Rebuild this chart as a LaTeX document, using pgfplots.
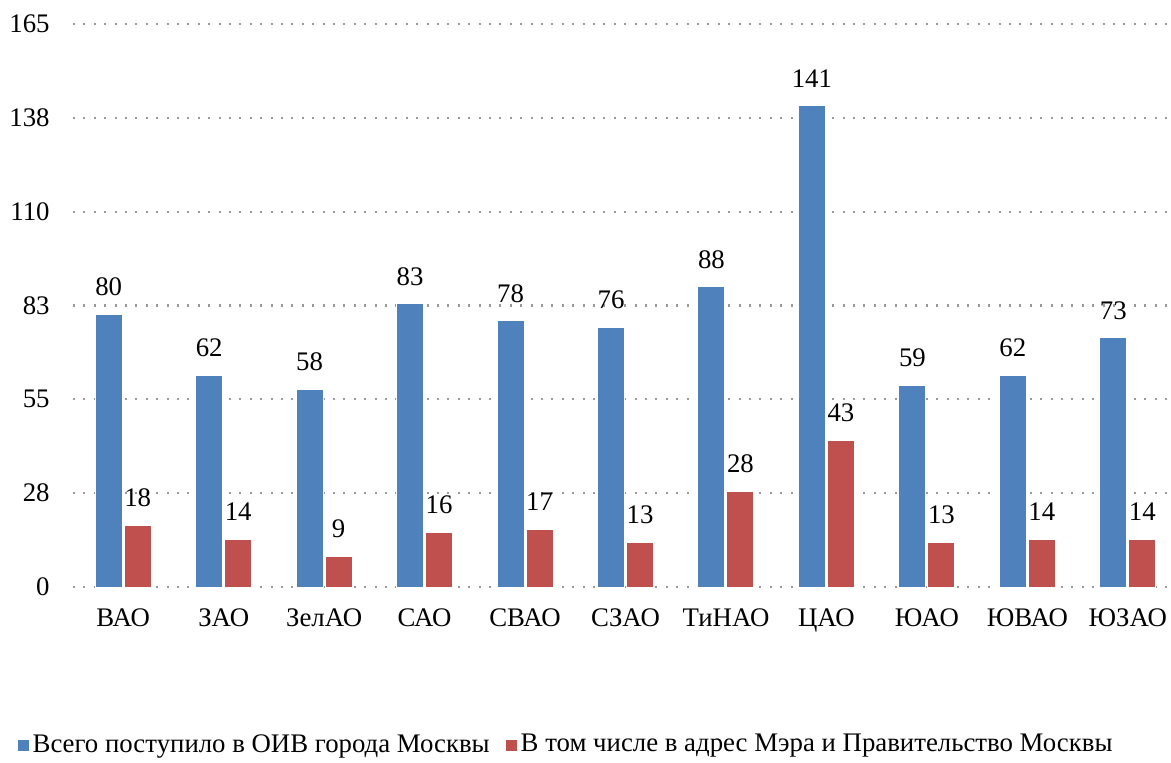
\documentclass[border=0pt]{standalone}
\usepackage{pgfplots}
\pgfplotsset{compat=1.18}
\usepackage{fontspec}
\setmainfont{Liberation Serif}
\definecolor{cblue}{HTML}{4F81BD}
\definecolor{cred}{HTML}{C0504D}
\newcommand{\fs}{\fontsize{13.4}{16}\selectfont}
\begin{document}
\fs
\begin{tikzpicture}
\begin{axis}[
  scale only axis,
  width=549pt, height=281.5pt,
  at={(0,0)}, anchor=south west,
  ybar=1pt, bar width=13.5pt,
  ymin=0, ymax=165,
  xmin=-0.5, xmax=10.43,
  xtick={0,...,10},
  xticklabels={ВАО,ЗАО,ЗелАО,САО,СВАО,СЗАО,ТиНАО,ЦАО,ЮАО,ЮВАО,ЮЗАО},
  ytick={0,27.5,55,82.5,110,137.5,165},
  yticklabels={0,28,55,83,110,138,165},
  /pgf/number format/assume math mode=true,
  axis line style={draw=none},
  major tick length=0pt,
  tick style={draw=none},
  ymajorgrids,
  grid style={gray!80, line width=1.1pt, dash pattern=on 1pt off 4.2pt},
  yticklabel style={anchor=east, inner sep=0pt, xshift=-11.5pt, font=\fs},
  xticklabel style={anchor=north, inner sep=0pt, yshift=-10.5pt, font=\fs},
  nodes near coords,
  every node near coord/.append style={font=\fs, yshift=4.5pt},
  legend style={at={(0.450,-0.281)}, anchor=center, draw=none, legend columns=2,
    font=\fs,
    /tikz/every even column/.append style={column sep=6pt}},
  legend image code/.code={\fill[#1,draw=none] (-1.5pt,-2.75pt) rectangle (4pt,2.75pt);},
]
\addplot[fill=cblue, draw=white, line width=0.5pt] coordinates {(0,80) (1,62) (2,58) (3,83) (4,78) (5,76) (6,88) (7,141) (8,59) (9,62) (10,73)};
\addplot[fill=cred, draw=white, line width=0.5pt] coordinates {(0,18) (1,14) (2,9) (3,16) (4,17) (5,13) (6,28) (7,43) (8,13) (9,14) (10,14)};
\legend{Всего поступило в ОИВ города Москвы, В том числе в адрес Мэра и Правительство Москвы}
\end{axis}
\pgfresetboundingbox
\path[use as bounding box] (-36.5pt,-87.5pt) rectangle (549pt,293.5pt);
\end{tikzpicture}
\end{document}
